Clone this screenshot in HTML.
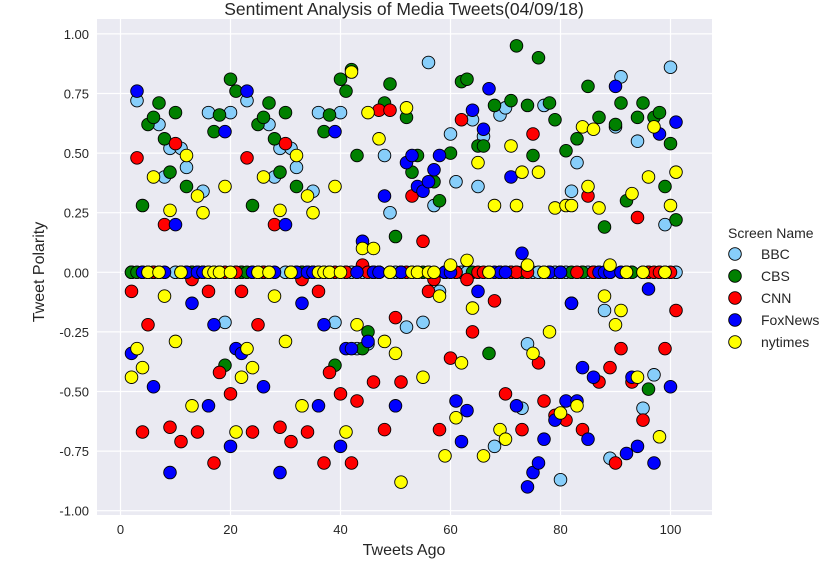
<!DOCTYPE html>
<html><head><meta charset="utf-8"><style>
body{margin:0;background:#fff;}
svg{display:block;font-family:"Liberation Sans",Arial,sans-serif;}
</style></head><body>
<svg id="chart" width="836" height="576">
<rect x="0" y="0" width="836" height="576" fill="#fff"/>
<rect x="97" y="19" width="615" height="496" fill="#EAEAF2"/>
<g id="grid"></g>
<g id="ticks"></g>
<g id="marks"></g>
<text x="404" y="15" text-anchor="middle" font-size="17.5" fill="#262626">Sentiment Analysis of Media Tweets(04/09/18)</text>
<text x="404" y="555" text-anchor="middle" font-size="16" fill="#262626">Tweets Ago</text>
<text x="44" y="272" text-anchor="middle" font-size="16" fill="#262626" transform="rotate(-90 44 272)">Tweet Polarity</text>
<g id="legend">
<text x="728" y="238" font-size="14" fill="#262626">Screen Name</text>
</g>
</svg>
<script>
const names = ["BBC","CBS","CNN","FoxNews","nytimes"];
const colors = ["#87CEFA","#008000","#FF0000","#0000FF","#FFFF00"];
const xTicks = [0,20,40,60,80,100];
const yTicks = [-1,-0.75,-0.5,-0.25,0,0.25,0.5,0.75,1];
const tweetsAgo = [2,3,4,5,6,7,8,9,10,11,12,13,14,15,16,17,18,19,20,21,22,23,24,25,26,27,28,29,30,31,32,33,34,35,36,37,38,39,40,41,42,43,44,45,46,47,48,49,50,51,52,53,54,55,56,57,58,59,60,61,62,63,64,65,66,67,68,69,70,71,72,73,74,75,76,77,78,79,80,81,82,83,84,85,86,87,88,89,90,91,92,93,94,95,96,97,98,99,100,101];
const bbc = [0,.72,0,0,0,.62,.40,.52,0,.52,.44,0,0,.34,.67,0,0,-.21,.67,0, 0,.72,0,0,0,.62,.40,.52,0,.52,.44,0,0,.34,.67,0,0,-.21,.67,0, 0,-.32,0,-.30,0,0,.49,.25,0,0,-.23,0,0,-.21,.88,.28,-.08,0,.58,.38, 0,0,.64,.36,.57,0,-.73,.66,.69,0,0,-.57,-.30,0,0,.70,0,0,-.87,0, .34,.46,0,0,0,0,-.16,-.78,.61,.82,0,0,.55,-.57,0,-.43,0,.20,.86,0];
const cbs = [0,0,.28,.62,.65,.71,.56,.42,.67,0,.36,0,0,0,0,.59,.66,-.39,.81,.76, 0,0,.28,.62,.65,.71,.56,.42,.67,0,.36,0,0,0,0,.59,.66,-.39,.81,.76, .85,.49,-.32,-.25,0,0,.71,.79,.15,0,.65,.42,.49,0,0,.38,.30,0,.50,0, .80,.81,0,.53,.53,-.34,.70,0,0,.72,.95,0,.70,.49,.90,0,.71,.64,0,.51, 0,.56,0,.78,0,.65,.19,0,.62,.71,.30,0,.65,.71,-.49,.65,.67,.36,.54,.22];
const cnn = [-.08,.48,-.67,-.22,0,0,.20,-.65,.54,-.71,0,-.03,-.67,0,-.08,-.80,-.42,0,-.51,0, -.08,.48,-.67,-.22,0,0,.20,-.65,.54,-.71,0,-.03,-.67,0,-.08,-.80,-.42,0,-.51,0, -.80,-.54,.03,0,-.46,.68,-.66,.68,-.19,-.46,0,.32,0,.13,-.08,-.03,-.66,0,-.36,0, .64,-.03,-.25,0,0,0,-.12,0,-.51,0,0,-.66,0,.58,-.38,-.54,0,-.60,0,-.62, -.13,0,-.66,.32,0,-.46,0,-.40,-.80,-.32,0,-.46,.23,-.62,0,0,0,-.32,0,-.16];
const fox = [-.34,.76,0,0,-.48,0,0,-.84,.20,0,0,-.13,0,0,-.56,-.22,0,.59,-.73,-.32, -.34,.76,0,0,-.48,0,0,-.84,.20,0,0,-.13,0,0,-.56,-.22,0,.59,-.73,-.32, -.32,0,.13,-.29,0,0,.32,0,-.56,0,.46,.49,.36,.34,.38,.43,.49,0,0,-.54, -.71,-.58,.68,-.08,.60,.77,0,0,0,.40,-.56,.08,-.90,-.84,-.80,-.70,0,-.62,0,-.54, -.13,-.54,-.40,-.70,-.44,0,0,0,.78,0,-.76,-.44,-.73,0,-.07,-.80,.58,0,-.48,.63];
const nyt = [-.44,-.32,-.40,0,.40,0,-.10,.26,-.29,0,.49,-.56,.32,.25,0,0,0,.36,0,-.67, -.44,-.32,-.40,0,.40,0,-.10,.26,-.29,0,.49,-.56,.32,.25,0,0,0,.36,0,-.67, .84,-.22,.10,.67,.10,.56,-.29,0,-.34,-.88,.69,0,0,-.44,0,0,-.10,-.77,.03,-.61, -.38,.05,-.15,.46,-.77,0,.28,-.66,-.70,.53,.28,.42,.03,-.34,.42,0,-.25,.27,-.59,.28, .28,-.56,.61,.36,.60,.27,-.10,.03,-.22,-.16,0,.33,-.44,0,.40,.61,-.69,0,.28,.42];
const series = [bbc, cbs, cnn, fox, nyt];

const NS = "http://www.w3.org/2000/svg";
const X0 = 120.5, XS = 5.5;
const Y0 = 272.3, YS = 238.4;
function xScale(v){ return X0 + v*XS; }
function yScale(v){ return Y0 - v*YS; }
function mk(tag, attrs, parent){ const e=document.createElementNS(NS,tag); for(const k in attrs) e.setAttribute(k,attrs[k]); parent.appendChild(e); return e; }

const grid = document.getElementById('grid');
const ticks = document.getElementById('ticks');
xTicks.forEach(t=>{
  const l = mk('line',{x1:xScale(t),x2:xScale(t),y1:19,y2:515,stroke:'#fff','stroke-width':1.2},grid);
  
  
  const tx = mk('text',{x:xScale(t),y:534,'text-anchor':'middle','font-size':13,fill:'#262626'},ticks);
  tx.textContent = t;
  
  
});
yTicks.forEach(t=>{
  const l = mk('line',{x1:97,x2:712,y1:yScale(t),y2:yScale(t),stroke:'#fff','stroke-width':1.2},grid);
  
  
  const tx = mk('text',{x:89,y:yScale(t)+5,'text-anchor':'end','font-size':13,fill:'#262626'},ticks);
  tx.textContent = t.toFixed(2);
  
  
});

const marks = document.getElementById('marks');
series.forEach((vals, s)=>{
  vals.forEach((v, i)=>{
    const c = mk('circle',{cx:xScale(tweetsAgo[i]),cy:yScale(v),r:6.3,fill:colors[s],stroke:'#000','stroke-width':0.9},marks);
    
    
  });
});

const legend = document.getElementById('legend');
names.forEach((n, s)=>{
  const y = 254 + s*22;
  const c = mk('circle',{cx:735,cy:y,r:6.3,fill:colors[s],stroke:'#000','stroke-width':0.9},legend);
  
  
  const t = mk('text',{x:761,y:y+5,'font-size':14,fill:'#262626'},legend);
  t.textContent = n;
  
  
});
</script>
</body></html>
